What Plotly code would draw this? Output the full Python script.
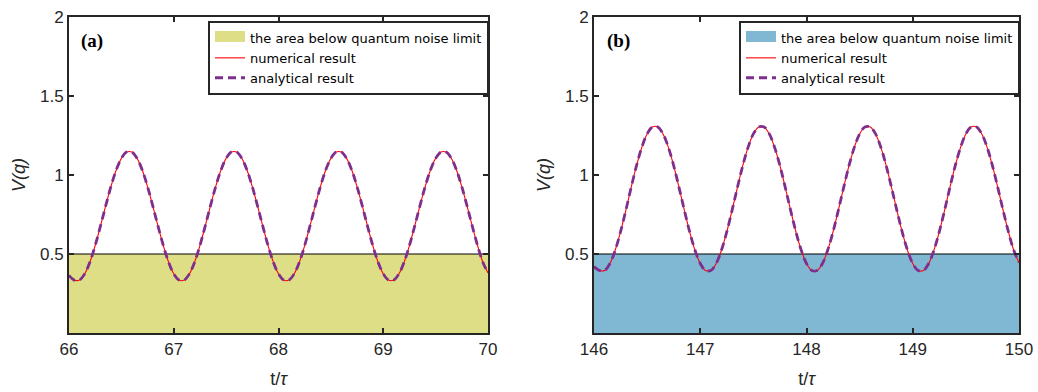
import plotly.graph_objects as go

# ---------------- data ----------------
t_a = [66.00, 66.05, 66.10, 66.15, 66.20, 66.25, 66.30, 66.35, 66.40, 66.45,
       66.50, 66.55, 66.60, 66.65, 66.70, 66.75, 66.80, 66.85, 66.90, 66.95,
       67.00, 67.05, 67.10, 67.15, 67.20, 67.25, 67.30, 67.35, 67.40, 67.45,
       67.50, 67.55, 67.60, 67.65, 67.70, 67.75, 67.80, 67.85, 67.90, 67.95,
       68.00, 68.05, 68.10, 68.15, 68.20, 68.25, 68.30, 68.35, 68.40, 68.45,
       68.50, 68.55, 68.60, 68.65, 68.70, 68.75, 68.80, 68.85, 68.90, 68.95,
       69.00, 69.05, 69.10, 69.15, 69.20, 69.25, 69.30, 69.35, 69.40, 69.45,
       69.50, 69.55, 69.60, 69.65, 69.70, 69.75, 69.80, 69.85, 69.90, 69.95,
       70.00]
v_num_a = [0.365, 0.335, 0.335, 0.375, 0.450, 0.554, 0.676, 0.804, 0.926, 1.030,
           1.105, 1.145, 1.145, 1.105, 1.030, 0.926, 0.804, 0.676, 0.554, 0.450,
           0.375, 0.335, 0.335, 0.375, 0.450, 0.554, 0.676, 0.804, 0.926, 1.030,
           1.105, 1.145, 1.145, 1.105, 1.030, 0.926, 0.804, 0.676, 0.554, 0.450,
           0.375, 0.335, 0.335, 0.375, 0.450, 0.554, 0.676, 0.804, 0.926, 1.030,
           1.105, 1.145, 1.145, 1.105, 1.030, 0.926, 0.804, 0.676, 0.554, 0.450,
           0.375, 0.335, 0.335, 0.375, 0.450, 0.554, 0.676, 0.804, 0.926, 1.030,
           1.105, 1.145, 1.145, 1.105, 1.030, 0.926, 0.804, 0.676, 0.554, 0.450,
           0.380]
v_ana_a = list(v_num_a)

t_b = [146.00, 146.05, 146.10, 146.15, 146.20, 146.25, 146.30, 146.35, 146.40, 146.45,
       146.50, 146.55, 146.60, 146.65, 146.70, 146.75, 146.80, 146.85, 146.90, 146.95,
       147.00, 147.05, 147.10, 147.15, 147.20, 147.25, 147.30, 147.35, 147.40, 147.45,
       147.50, 147.55, 147.60, 147.65, 147.70, 147.75, 147.80, 147.85, 147.90, 147.95,
       148.00, 148.05, 148.10, 148.15, 148.20, 148.25, 148.30, 148.35, 148.40, 148.45,
       148.50, 148.55, 148.60, 148.65, 148.70, 148.75, 148.80, 148.85, 148.90, 148.95,
       149.00, 149.05, 149.10, 149.15, 149.20, 149.25, 149.30, 149.35, 149.40, 149.45,
       149.50, 149.55, 149.60, 149.65, 149.70, 149.75, 149.80, 149.85, 149.90, 149.95,
       150.00]
v_num_b = [0.420, 0.396, 0.396, 0.440, 0.525, 0.641, 0.778, 0.922, 1.059, 1.175,
           1.260, 1.304, 1.304, 1.260, 1.175, 1.059, 0.922, 0.778, 0.641, 0.525,
           0.440, 0.396, 0.396, 0.440, 0.525, 0.641, 0.778, 0.922, 1.059, 1.175,
           1.260, 1.304, 1.304, 1.260, 1.175, 1.059, 0.922, 0.778, 0.641, 0.525,
           0.440, 0.396, 0.396, 0.440, 0.525, 0.641, 0.778, 0.922, 1.059, 1.175,
           1.260, 1.304, 1.304, 1.260, 1.175, 1.059, 0.922, 0.778, 0.641, 0.525,
           0.440, 0.396, 0.396, 0.440, 0.525, 0.641, 0.778, 0.922, 1.059, 1.175,
           1.260, 1.304, 1.304, 1.260, 1.175, 1.059, 0.922, 0.778, 0.641, 0.525,
           0.445]
v_ana_b = list(v_num_b)

noise_limit = 0.5
x_ticks_a = [66, 67, 68, 69, 70]
x_ticks_b = [146, 147, 148, 149, 150]
y_ticks = [0.5, 1, 1.5, 2]
y_ticktext = ["0.5", "1", "1.5", "2"]

# ---------------- styles ----------------
W, H = 1038, 392
AX = "#262626"
FILL_A = "#DEDE87"
FILL_B = "#80B8D4"
RED = "#FF0000"
PURPLE = "#7E2F8E"

fig = go.Figure()

def add_panel(t, vn, va, fillc, xa, ya, leg):
    # filled area below the quantum noise limit (drawn on the axes)
    fig.add_trace(go.Scatter(
        x=[t[0], t[-1]], y=[noise_limit, noise_limit], mode="lines",
        fill="tozeroy", fillcolor=fillc, line=dict(color="black", width=1),
        name="the area below quantum noise limit", xaxis=xa, yaxis=ya,
        legend=leg, showlegend=False))
    # legend swatch for the area
    fig.add_trace(go.Scatter(
        x=[None], y=[None], mode="lines",
        fill="tozeroy", fillcolor=fillc, line=dict(color=fillc, width=12),
        name="the area below quantum noise limit", xaxis=xa, yaxis=ya, legend=leg))
    fig.add_trace(go.Scatter(
        x=t, y=vn, mode="lines", line=dict(color=RED, width=1.1, shape="spline"),
        name="numerical result", xaxis=xa, yaxis=ya, legend=leg))
    fig.add_trace(go.Scatter(
        x=t, y=va, mode="lines",
        line=dict(color=PURPLE, width=2.8, dash="8px,5px", shape="spline"),
        name="analytical result", xaxis=xa, yaxis=ya, legend=leg))

add_panel(t_a, v_num_a, v_ana_a, FILL_A, "x", "y", "legend")
add_panel(t_b, v_num_b, v_ana_b, FILL_B, "x2", "y2", "legend2")

ydom = [1 - 333 / H, 1 - 17 / H]
xdom_a = [69 / W, 488 / W]
xdom_b = [594 / W, 1019 / W]

axis_common = dict(
    showline=True, linecolor=AX, linewidth=1.8, mirror="allticks",
    ticks="inside", ticklen=5, tickwidth=1.5, tickcolor=AX,
    showgrid=False, zeroline=False, automargin=False,
    tickfont=dict(family="Liberation Sans, Arial", size=17, color=AX),
)

def xaxis(dom, ticks, anchor):
    return dict(domain=dom, range=[ticks[0], ticks[-1]], tickvals=ticks,
                anchor=anchor,
                title=dict(text="t/<i>τ</i>", standoff=14,
                           font=dict(family="Liberation Sans, Arial", size=18, color=AX)),
                **axis_common)

def yaxis(anchor):
    return dict(domain=ydom, range=[0, 2], tickvals=y_ticks, ticktext=y_ticktext,
                anchor=anchor,
                title=dict(text="<i>V(q)</i>", standoff=10,
                           font=dict(family="Liberation Sans, Arial", size=18, color=AX)),
                **axis_common)

legend_common = dict(
    bgcolor="white", bordercolor=AX, borderwidth=2,
    font=dict(family="DejaVu Sans", size=13, color="black"),
    yanchor="top", y=1 - 21 / H, xanchor="right",
    tracegroupgap=0, itemwidth=30,
)

fig.update_layout(
    width=W, height=H, margin=dict(l=0, r=0, t=0, b=0, autoexpand=False),
    paper_bgcolor="white", plot_bgcolor="white", showlegend=True,
    xaxis=xaxis(xdom_a, x_ticks_a, "y"),
    yaxis=yaxis("x"),
    xaxis2=xaxis(xdom_b, x_ticks_b, "y2"),
    yaxis2=yaxis("x2"),
    legend=dict(x=489 / W, **legend_common),
    legend2=dict(x=1020 / W, **legend_common),
    annotations=[
        dict(text="<b>(a)</b>", x=79 / W, y=1 - 41 / H, xref="paper", yref="paper",
             xanchor="left", yanchor="middle", showarrow=False,
             font=dict(family="Liberation Serif, Times New Roman", size=19, color="black")),
        dict(text="<b>(b)</b>", x=605 / W, y=1 - 41 / H, xref="paper", yref="paper",
             xanchor="left", yanchor="middle", showarrow=False,
             font=dict(family="Liberation Serif, Times New Roman", size=19, color="black")),
    ],
)

fig.write_html("out.html",
               config={"displayModeBar": False},
               post_script="document.body.style.margin='0';document.body.style.overflow='hidden';")
